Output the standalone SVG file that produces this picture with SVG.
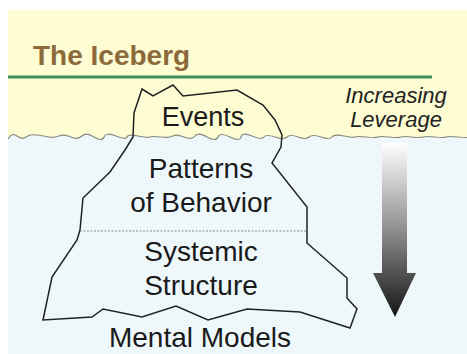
<svg xmlns="http://www.w3.org/2000/svg" width="467" height="354" viewBox="0 0 467 354">
  <defs>
    <style>
      .lbl { font-family: "Liberation Sans", Arial, sans-serif; font-size: 28px; fill: #1a1a1a; text-anchor: middle; }
      .lev { font-family: "Liberation Sans", Arial, sans-serif; font-size: 22px; font-style: italic; fill: #222; text-anchor: middle; }
      .title { font-family: "Liberation Sans", Arial, sans-serif; font-size: 28px; font-weight: bold; fill: #8c6a3c; }
      .ice { fill: none; stroke: #222; stroke-width: 1.5; stroke-linejoin: miter; }
    </style>
    <linearGradient id="arrowGrad" x1="0" y1="0" x2="0" y2="1">
      <stop offset="0" stop-color="#ffffff"/>
      <stop offset="0.45" stop-color="#9a9a9a"/>
      <stop offset="1" stop-color="#151515"/>
    </linearGradient>
  </defs>

  <g id="background">
    <rect x="0" y="0" width="467" height="354" fill="#ffffff"/>
    <rect x="8" y="10" width="459" height="344" fill="#fefcd2"/>
    <path d="M8,139 q4,-7 9,-3 t9,1 t11,-2 t12,2 t10,-1 t12,1 t11,-1 t12,1 t10,0 t12,-1 t11,1 t11,-1 t12,1 t11,0 t12,-1 t11,1 t11,-1 t12,1 t11,0 t12,0 t11,0 t11,-1 t12,1 t11,0 t12,0 t11,0 t11,0 t12,0 t11,0 t12,-1 t11,1 t11,0 t12,0 t11,0 t12,0 t11,0 t11,0 t12,0 t11,0 t12,0 t11,0 L470,354 L8,354 Z" fill="#eef8fb"/>
    <path d="M8,139 q4,-7 9,-3 t9,1 t11,-2 t12,2 t10,-1 t12,1 t11,-1 t12,1 t10,0 t12,-1 t11,1 t11,-1 t12,1 t11,0 t12,-1 t11,1 t11,-1 t12,1 t11,0 t12,0 t11,0 t11,-1 t12,1 t11,0 t12,0 t11,0 t11,0 t12,0 t11,0 t12,-1 t11,1 t11,0 t12,0 t11,0 t12,0 t11,0 t11,0 t12,0 t11,0 t12,0 t11,0" fill="none" stroke="#8a8a80" stroke-width="1.2"/>
  </g>

  <g id="title">
    <text class="title" x="33" y="65">The Iceberg</text>
    <line x1="8" y1="77" x2="432" y2="77" stroke="#3e8e5e" stroke-width="3"/>
  </g>

  <g id="iceberg">
    <polygon class="ice" points="142,89 153,96 173,85 183,96 237,90 263,105 275,120 282,135 281,147 272,163 307,207 307,243 347,278 347,298 357,309 350,328 300,312 247,309 208,320 176,306 142,317 103,309 92,317 43,320 52,277 77,240 80,230 83,198 110,172 125,150 133,137 134,113"/>
    <line x1="80" y1="231" x2="307" y2="231" stroke="#8a8a8a" stroke-width="1" stroke-dasharray="2,1.5"/>
  </g>

  <g id="events">
    <text class="lbl" x="203" y="126" style="font-size:27px">Events</text>
  </g>
  <g id="patterns">
    <text class="lbl" x="201" y="178">Patterns</text>
    <text class="lbl" x="201" y="212">of Behavior</text>
  </g>
  <g id="structure">
    <text class="lbl" x="201" y="261">Systemic</text>
    <text class="lbl" x="201" y="295">Structure</text>
  </g>
  <g id="mental-models">
    <text class="lbl" x="200" y="347">Mental Models</text>
  </g>

  <g id="leverage">
    <text class="lev" x="396" y="103">Increasing</text>
    <text class="lev" x="396" y="127">Leverage</text>
    <polygon points="382,143 407,143 407,273 416,273 395,317 373,273 382,273" fill="url(#arrowGrad)"/>
  </g>
</svg>
